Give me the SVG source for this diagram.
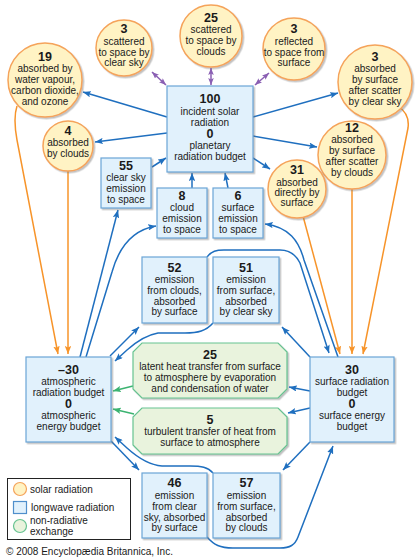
<svg xmlns="http://www.w3.org/2000/svg" width="420" height="560" viewBox="0 0 420 560">
<style>
.t{font-family:"Liberation Sans",Arial,sans-serif;font-size:10px;fill:#1a1a1a;text-anchor:middle}
.n{font-family:"Liberation Sans",Arial,sans-serif;font-size:12.5px;font-weight:bold;fill:#1a1a1a;text-anchor:middle}
.lg{font-family:"Liberation Sans",Arial,sans-serif;font-size:10px;fill:#1a1a1a}
.c{fill:#fff3c4;stroke:#f5a35a;stroke-width:1.5;filter:url(#sh)}
.b{fill:#e1f1fc;stroke:#6aa5d6;stroke-width:1.2;filter:url(#sh)}
.g{fill:#e9f3dd;stroke:#66c391;stroke-width:1.2;filter:url(#sh)}
.lb{fill:none;stroke:#1f6fbf;stroke-width:1.5}
.lo{fill:none;stroke:#f7942a;stroke-width:1.5}
.lp{fill:none;stroke:#8a5fb3;stroke-width:1.5}
.lgn{fill:none;stroke:#3cb371;stroke-width:1.5}
</style>
<defs>
<filter id="sh" x="-10%" y="-10%" width="130%" height="130%"><feDropShadow dx="1.5" dy="1.5" stdDeviation="0.7" flood-color="#777" flood-opacity="0.45"/></filter>
<marker id="ab" viewBox="0 0 10 8" refX="10" refY="4" markerWidth="8" markerHeight="6.4" orient="auto-start-reverse" markerUnits="userSpaceOnUse"><path d="M0,0 L10,4 L0,8 L2,4 z" fill="#1f6fbf"/></marker>
<marker id="ao" viewBox="0 0 10 8" refX="10" refY="4" markerWidth="8" markerHeight="6.4" orient="auto-start-reverse" markerUnits="userSpaceOnUse"><path d="M0,0 L10,4 L0,8 L2,4 z" fill="#f7942a"/></marker>
<marker id="ap" viewBox="0 0 10 8" refX="10" refY="4" markerWidth="7" markerHeight="5.6" orient="auto-start-reverse" markerUnits="userSpaceOnUse"><path d="M0,0 L10,4 L0,8 L2,4 z" fill="#8a5fb3"/></marker>
<marker id="ag" viewBox="0 0 10 8" refX="10" refY="4" markerWidth="8" markerHeight="6.4" orient="auto-start-reverse" markerUnits="userSpaceOnUse"><path d="M0,0 L10,4 L0,8 L2,4 z" fill="#3cb371"/></marker>
</defs>
<rect width="420" height="560" fill="#ffffff"/>

<g id="connectors">
<path class="lp" d="M152,72 L166,85" marker-start="url(#ap)" marker-end="url(#ap)"/>
<path class="lp" d="M211,68 L211,85" marker-start="url(#ap)" marker-end="url(#ap)"/>
<path class="lp" d="M269,73 L255,85" marker-start="url(#ap)" marker-end="url(#ap)"/>
<path class="lb" d="M167,117 L83,92" marker-end="url(#ab)"/>
<path class="lb" d="M167,133 L95,142" marker-end="url(#ab)"/>
<path class="lb" d="M253,117 L338,93" marker-end="url(#ab)"/>
<path class="lb" d="M253,136 L317,147" marker-end="url(#ab)"/>
<path class="lb" d="M253,158 L270,169" marker-end="url(#ab)"/>
<path class="lb" d="M152,167 L166,158" marker-end="url(#ab)"/>
<path class="lb" d="M192,188 L192,173" marker-end="url(#ab)"/>
<path class="lb" d="M228,188 L225,173" marker-end="url(#ab)"/>
<path class="lo" d="M17,106 Q13,118 17,140 L58,354" marker-end="url(#ao)"/>
<path class="lo" d="M68,171 L68,354" marker-end="url(#ao)"/>
<path class="lo" d="M303,216 L340,354" marker-end="url(#ao)"/>
<path class="lo" d="M352,189 L352,354" marker-end="url(#ao)"/>
<path class="lo" d="M398,106 Q410,114 408,128 L363,354" marker-end="url(#ao)"/>
<path class="lb" d="M80,357 L118,210" marker-end="url(#ab)"/>
<path class="lb" d="M86,357 L112,272 C119,247 132,230 156,226" marker-end="url(#ab)"/>
<path class="lb" d="M338,357 L304,260 C299,241 289,227 265,224" marker-end="url(#ab)"/>
<path class="lb" d="M110,356 L139,327" marker-end="url(#ab)"/>
<path class="lb" d="M207,257 C212,251 216,250 224,250 L280,250 C290,250 296,255 300,263 L329,353" marker-end="url(#ab)"/>
<path class="lb" d="M310,357 L282,327" marker-end="url(#ab)"/>
<path class="lb" d="M213,323 C206,331 198,333 185,333 L158,333 C146,335 136,342 127,350 L115,361" marker-end="url(#ab)"/>
<path class="lb" d="M310,391 L289,387" marker-end="url(#ab)"/>
<path class="lb" d="M310,408 L288,413" marker-end="url(#ab)"/>
<path class="lgn" d="M133,386 L113,391" marker-end="url(#ag)"/>
<path class="lgn" d="M134,414 L113,409" marker-end="url(#ag)"/>
<path class="lb" d="M111,441 L139,470" marker-end="url(#ab)"/>
<path class="lb" d="M207,537 C214,545 220,548 233,548 L280,548 C290,548 295,545 298,537 L333,446" marker-end="url(#ab)"/>
<path class="lb" d="M310,442 L283,470" marker-end="url(#ab)"/>
<path class="lb" d="M213,473 C208,467 201,466 190,466 L162,466 C148,465 137,457 127,448 L115,437" marker-end="url(#ab)"/>
</g>

<g id="n-scatter-clear">
<circle class="c" cx="124" cy="48" r="28"/>
<text class="n" x="124" y="33">3</text>
<text class="t" x="124" y="45">scattered</text>
<text class="t" x="124" y="56">to space by</text>
<text class="t" x="124" y="66">clear sky</text>
</g>
<g id="n-scatter-clouds">
<circle class="c" cx="211" cy="36" r="31"/>
<text class="n" x="211" y="22">25</text>
<text class="t" x="211" y="33">scattered</text>
<text class="t" x="211" y="44">to space by</text>
<text class="t" x="211" y="55">clouds</text>
</g>
<g id="n-reflected">
<circle class="c" cx="294" cy="49" r="31"/>
<text class="n" x="294" y="33">3</text>
<text class="t" x="294" y="45">reflected</text>
<text class="t" x="294" y="56">to space from</text>
<text class="t" x="294" y="66">surface</text>
</g>
<g id="n-absorbed-gases">
<circle class="c" cx="45" cy="80" r="37"/>
<text class="n" x="45" y="61">19</text>
<text class="t" x="45" y="72">absorbed by</text>
<text class="t" x="45" y="83">water vapour,</text>
<text class="t" x="45" y="94">carbon dioxide,</text>
<text class="t" x="45" y="105">and ozone</text>
</g>
<g id="n-absorbed-clouds">
<circle class="c" cx="68" cy="146" r="25"/>
<text class="n" x="68" y="135">4</text>
<text class="t" x="68" y="146">absorbed</text>
<text class="t" x="68" y="157">by clouds</text>
</g>
<g id="n-surface-clear">
<circle class="c" cx="375" cy="82" r="37"/>
<text class="n" x="375" y="61">3</text>
<text class="t" x="375" y="72">absorbed</text>
<text class="t" x="375" y="83">by surface</text>
<text class="t" x="375" y="94">after scatter</text>
<text class="t" x="375" y="105">by clear sky</text>
</g>
<g id="n-surface-clouds">
<circle class="c" cx="352" cy="155" r="34"/>
<text class="n" x="352" y="132">12</text>
<text class="t" x="352" y="143">absorbed</text>
<text class="t" x="352" y="154">by surface</text>
<text class="t" x="352" y="165">after scatter</text>
<text class="t" x="352" y="176">by clouds</text>
</g>
<g id="n-surface-direct">
<circle class="c" cx="297" cy="189" r="29"/>
<text class="n" x="297" y="174">31</text>
<text class="t" x="297" y="186">absorbed</text>
<text class="t" x="297" y="196">directly by</text>
<text class="t" x="297" y="206">surface</text>
</g>

<g id="n-incident">
<rect class="b" x="167" y="86" width="86" height="86"/>
<text class="n" x="210" y="103">100</text>
<text class="t" x="210" y="115">incident solar</text>
<text class="t" x="210" y="126">radiation</text>
<text class="n" x="210" y="138">0</text>
<text class="t" x="210" y="149">planetary</text>
<text class="t" x="210" y="160">radiation budget</text>
</g>
<g id="n-clear-emission">
<rect class="b" x="101" y="158" width="50" height="50"/>
<text class="n" x="126" y="170">55</text>
<text class="t" x="126" y="181">clear sky</text>
<text class="t" x="126" y="192">emission</text>
<text class="t" x="126" y="203">to space</text>
</g>
<g id="n-cloud-emission">
<rect class="b" x="157" y="188" width="50" height="50"/>
<text class="n" x="182" y="200">8</text>
<text class="t" x="182" y="211">cloud</text>
<text class="t" x="182" y="222">emission</text>
<text class="t" x="182" y="233">to space</text>
</g>
<g id="n-surface-emission">
<rect class="b" x="213" y="188" width="50" height="50"/>
<text class="n" x="238" y="200">6</text>
<text class="t" x="238" y="211">surface</text>
<text class="t" x="238" y="222">emission</text>
<text class="t" x="238" y="233">to space</text>
</g>
<g id="n-52">
<rect class="b" x="142" y="257" width="65" height="66"/>
<text class="n" x="174.5" y="272">52</text>
<text class="t" x="174.5" y="283">emission</text>
<text class="t" x="174.5" y="294">from clouds,</text>
<text class="t" x="174.5" y="305">absorbed</text>
<text class="t" x="174.5" y="315">by surface</text>
</g>
<g id="n-51">
<rect class="b" x="213" y="257" width="66" height="66"/>
<text class="n" x="246" y="272">51</text>
<text class="t" x="246" y="283">emission</text>
<text class="t" x="246" y="294">from surface,</text>
<text class="t" x="246" y="305">absorbed</text>
<text class="t" x="246" y="315">by clear sky</text>
</g>
<g id="n-atmosphere">
<rect class="b" x="26" y="357" width="85" height="85"/>
<text class="n" x="68.5" y="374">–30</text>
<text class="t" x="68.5" y="385">atmospheric</text>
<text class="t" x="68.5" y="396">radiation budget</text>
<text class="n" x="68.5" y="408">0</text>
<text class="t" x="68.5" y="419">atmospheric</text>
<text class="t" x="68.5" y="430">energy budget</text>
</g>
<g id="n-surface">
<rect class="b" x="310" y="357" width="84" height="85"/>
<text class="n" x="352" y="374">30</text>
<text class="t" x="352" y="385">surface radiation</text>
<text class="t" x="352" y="396">budget</text>
<text class="n" x="352" y="408">0</text>
<text class="t" x="352" y="419">surface energy</text>
<text class="t" x="352" y="430">budget</text>
</g>
<g id="n-latent">
<polygon class="g" points="142,343 278,343 287,352 287,389 278,398 142,398 133,389 133,352"/>
<text class="n" x="210" y="359">25</text>
<text class="t" x="210" y="370">latent heat transfer from surface</text>
<text class="t" x="210" y="381">to atmosphere by evaporation</text>
<text class="t" x="210" y="392">and condensation of water</text>
</g>
<g id="n-turbulent">
<polygon class="g" points="142,408 278,408 287,417 287,445 278,454 142,454 133,445 133,417"/>
<text class="n" x="210" y="424">5</text>
<text class="t" x="210" y="435">turbulent transfer of heat from</text>
<text class="t" x="210" y="446">surface to atmosphere</text>
</g>
<g id="n-46">
<rect class="b" x="142" y="473" width="65" height="65"/>
<text class="n" x="174.5" y="487">46</text>
<text class="t" x="174.5" y="499">emission</text>
<text class="t" x="174.5" y="510">from clear</text>
<text class="t" x="174.5" y="521">sky, absorbed</text>
<text class="t" x="174.5" y="531">by surface</text>
</g>
<g id="n-57">
<rect class="b" x="213" y="473" width="67" height="65"/>
<text class="n" x="246.5" y="487">57</text>
<text class="t" x="246.5" y="499">emission</text>
<text class="t" x="246.5" y="510">from surface,</text>
<text class="t" x="246.5" y="521">absorbed</text>
<text class="t" x="246.5" y="531">by clouds</text>
</g>

<g id="legend">
<rect x="7.5" y="478.5" width="123" height="61" fill="#fff" stroke="#222" stroke-width="1"/>
<circle cx="20" cy="489" r="6.5" fill="#fff3c4" stroke="#f5a35a" stroke-width="1.2"/>
<text class="lg" x="30" y="493">solar radiation</text>
<rect x="13.5" y="501.5" width="13" height="12" fill="#e1f1fc" stroke="#4f8fcc" stroke-width="1.2"/>
<text class="lg" x="31" y="511">longwave radiation</text>
<circle cx="20" cy="526" r="6.5" fill="#e9f3dd" stroke="#66c391" stroke-width="1.2"/>
<text class="lg" x="30" y="524">non-radiative</text>
<text class="lg" x="30" y="535">exchange</text>
</g>
<text class="lg" x="6" y="555">© 2008 Encyclopædia Britannica, Inc.</text>
</svg>
